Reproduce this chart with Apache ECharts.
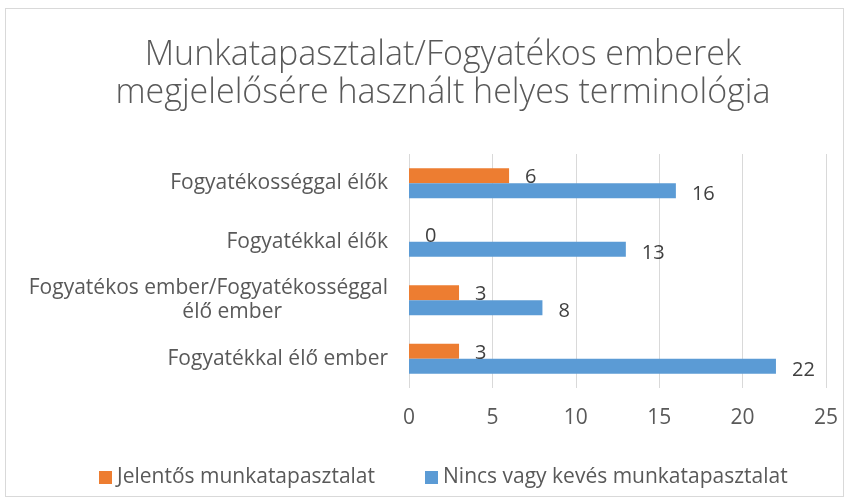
<!DOCTYPE html>
<html>
<head>
<meta charset="utf-8">
<script src="https://cdn.jsdelivr.net/npm/echarts@6/dist/echarts.min.js"></script>
<style>
  html, body { margin: 0; padding: 0; background: #fff; }
  #frame { position: absolute; left: 5px; top: 8px; width: 839px; height: 489px; border: 1px solid #d9d9d9; box-sizing: border-box; }
  #chart { position: absolute; left: 0; top: 0; width: 851px; height: 504px; }
</style>
</head>
<body>
<div id="frame"></div>
<div id="chart"></div>
<script>
// Categories, bottom row first (ECharts category y-axis runs upward)
const categories = [
  'Fogyatékkal élő ember',
  'Fogyatékos ember/Fogyatékosséggal\nélő ember',
  'Fogyatékkal élők',
  'Fogyatékosséggal élők'
];
const seriesNames = ['Jelentős munkatapasztalat', 'Nincs vagy kevés munkatapasztalat'];
const significantExperience = [3, 3, 0, 6];
const littleOrNoExperience = [22, 8, 13, 16];
const xTicks = [0, 5, 10, 15, 20, 25];

const FONT = '"Open Sans", "Noto Sans", sans-serif';
const TEXT = '#595959';
const LABEL_SIZE = 21;
const VALUE_SIZE = 20;

const chart = echarts.init(document.getElementById('chart'));
chart.setOption({
  animation: false,
  textStyle: { fontFamily: FONT },
  title: {
    text: 'Munkatapasztalat/Fogyatékos emberek\nmegjelelősére használt helyes terminológia',
    left: 438,
    top: 31,
    textAlign: 'center',
    textStyle: { fontFamily: FONT, fontSize: 34, fontWeight: 300, color: TEXT, lineHeight: 38 }
  },
  legend: {
    data: seriesNames,
    bottom: 11,
    left: 94,
    itemWidth: 13,
    itemHeight: 13,
    itemGap: 50,
    icon: 'rect',
    textStyle: { fontFamily: FONT, fontSize: LABEL_SIZE, color: TEXT, padding: [0, 0, 0, 0] }
  },
  grid: { left: 409, right: 25, top: 154, bottom: 116, containLabel: false },
  xAxis: {
    type: 'value',
    min: xTicks[0],
    max: xTicks[xTicks.length - 1],
    interval: 5,
    axisLine: { show: false },
    axisTick: { show: false },
    axisLabel: { color: TEXT, fontSize: LABEL_SIZE, margin: 20, fontFamily: FONT },
    splitLine: { show: true, lineStyle: { color: '#d9d9d9', width: 1 } }
  },
  yAxis: {
    type: 'category',
    data: categories,
    axisLine: { show: false },
    axisTick: { show: false },
    axisLabel: {
      color: TEXT,
      fontSize: LABEL_SIZE,
      margin: 21,
      fontFamily: FONT,
      lineHeight: 24,
      formatter: function (v) {
        const lines = v.split('\n');
        if (lines.length > 1) {
          // wrapped label: second line sits under the middle of the first
          return '{a|' + lines[0] + '}\n{b|' + lines[1] + '}';
        }
        return v;
      },
      rich: {
        a: { fontSize: LABEL_SIZE, color: TEXT, fontFamily: FONT, lineHeight: 24 },
        b: { align: 'right', padding: [0, 106, 0, 0], fontSize: LABEL_SIZE, color: TEXT, fontFamily: FONT, lineHeight: 24 }
      }
    }
  },
  series: [
    {
      name: seriesNames[0],
      type: 'bar',
      data: significantExperience,
      barWidth: 15,
      barGap: '0%',
      itemStyle: { color: '#ED7D31' },
      label: { show: true, position: 'right', distance: 16, color: '#404040', fontSize: VALUE_SIZE, fontFamily: FONT, offset: [0, 2] }
    },
    {
      name: seriesNames[1],
      type: 'bar',
      data: littleOrNoExperience,
      barWidth: 15,
      barGap: '0%',
      itemStyle: { color: '#5B9BD5' },
      label: { show: true, position: 'right', distance: 16, color: '#404040', fontSize: VALUE_SIZE, fontFamily: FONT, offset: [0, 4] }
    }
  ]
});
</script>
</body>
</html>
